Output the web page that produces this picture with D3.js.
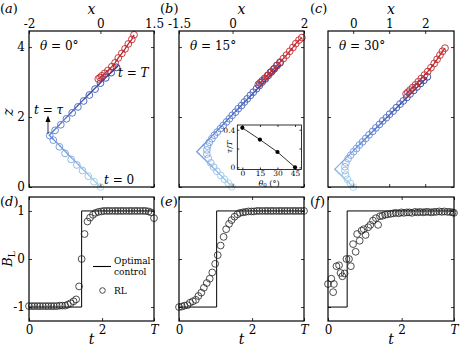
<!DOCTYPE html>
<html>
<head>
<meta charset="utf-8">
<script src="https://cdn.jsdelivr.net/npm/d3@7"></script>
<style>
body { margin: 0; background: #fff; }
svg text { font-family: 'DejaVu Serif', serif !important; }
</style>
</head>
<body>
<div id="chart"></div>
<script>

// ---- data ----
var T_END = 3.42;   // t = T

// trajectories, optimal control (line) and RL (circles), plus red continuation
var aLineX = [0, -1.43, -0.5, 0, 0.5];
var aLineZ = [0, 1.48, 2.47, 2.98, 3.47];
var aRlX = [0, -0.18, -0.34, -0.5, -0.66, -0.82, -0.99, -1.15, -1.32, -1.42, -1.27, -1.11, -0.95, -0.79, -0.63, -0.47, -0.31, -0.15, 0.0, 0.15, 0.3, 0.45];
var aRlZ = [0, 0.15, 0.31, 0.47, 0.63, 0.79, 0.96, 1.15, 1.34, 1.47, 1.62, 1.78, 1.95, 2.12, 2.29, 2.46, 2.63, 2.8, 2.97, 3.12, 3.27, 3.42];
var aRedX = [-0.06, -0.01, 0.04, 0.12, 0.21, 0.32, 0.41, 0.5, 0.6, 0.69, 0.78, 0.88, 0.94];
var aRedZ = [3.09, 3.13, 3.18, 3.25, 3.33, 3.44, 3.55, 3.69, 3.82, 3.95, 4.09, 4.22, 4.35];

var bLineX = [0, -1.0, 1.33];
var bLineZ = [0, 1.01, 3.48];
var bRlX = [-0.02, -0.12, -0.23, -0.33, -0.44, -0.53, -0.61, -0.68, -0.72, -0.72, -0.7, -0.65, -0.58, -0.51, -0.43, -0.34, -0.26, -0.17, -0.09, -0.01, 0.08, 0.16, 0.25, 0.33, 0.41, 0.5, 0.58, 0.67, 0.75, 0.83, 0.92, 1.0, 1.09, 1.17, 1.25, 1.33];
var bRlZ = [0.01, 0.11, 0.22, 0.33, 0.45, 0.57, 0.69, 0.82, 0.94, 1.06, 1.17, 1.28, 1.38, 1.48, 1.57, 1.67, 1.76, 1.86, 1.95, 2.05, 2.14, 2.24, 2.33, 2.43, 2.52, 2.62, 2.71, 2.81, 2.9, 3.0, 3.09, 3.19, 3.29, 3.38, 3.48, 3.55];
var bRedX = [0.72, 0.77, 0.83, 0.9, 0.98, 1.06, 1.15, 1.24, 1.33, 1.42, 1.51, 1.6, 1.69, 1.77, 1.86, 1.94];
var bRedZ = [2.93, 2.98, 3.04, 3.11, 3.19, 3.28, 3.37, 3.47, 3.57, 3.67, 3.77, 3.88, 3.99, 4.1, 4.2, 4.27];

var cLineX = [0, -0.51, 2.04];
var cLineZ = [0, 0.51, 3.12];
var cRlX = [0, -0.08, -0.16, -0.21, -0.23, -0.23, -0.2, -0.14, -0.07, 0.01, 0.09, 0.17, 0.26, 0.35, 0.44, 0.54, 0.63, 0.73, 0.82, 0.92, 1.01, 1.11, 1.2, 1.3, 1.39, 1.49, 1.58, 1.68, 1.77, 1.87, 1.96, 2.06];
var cRlZ = [0, 0.11, 0.22, 0.34, 0.47, 0.58, 0.69, 0.81, 0.91, 1.01, 1.1, 1.2, 1.29, 1.39, 1.49, 1.59, 1.69, 1.79, 1.89, 1.98, 2.08, 2.17, 2.27, 2.37, 2.46, 2.56, 2.66, 2.76, 2.86, 2.96, 3.05, 3.15];
var cRedX = [1.47, 1.52, 1.58, 1.65, 1.73, 1.81, 1.89, 1.98, 2.07, 2.16, 2.25, 2.33, 2.41, 2.48, 2.55];
var cRedZ = [2.66, 2.71, 2.77, 2.84, 2.92, 3.01, 3.1, 3.2, 3.3, 3.41, 3.53, 3.65, 3.77, 3.88, 3.97];

// B_L(t) for RL, panels (d) and (e) share a time grid
var tGrid = [0, 0.08, 0.15, 0.23, 0.3, 0.38, 0.46, 0.53, 0.61, 0.68, 0.76, 0.84, 0.91, 0.99, 1.06, 1.14, 1.22, 1.29, 1.37, 1.44, 1.52, 1.6, 1.67, 1.75, 1.82, 1.9, 1.98, 2.05, 2.13, 2.2, 2.28, 2.36, 2.43, 2.51, 2.58, 2.66, 2.74, 2.81, 2.89, 2.96, 3.04, 3.12, 3.19, 3.27, 3.34, 3.42];
var dB = [-0.98, -0.98, -0.98, -0.98, -0.98, -0.98, -0.98, -0.98, -0.98, -0.98, -0.98, -0.97, -0.97, -0.97, -0.95, -0.92, -0.88, -0.84, -0.57, 0.0, 0.52, 0.78, 0.86, 0.92, 0.96, 0.98, 0.99, 1, 1, 1, 1, 1, 1, 1, 1, 1, 1, 1, 1, 1, 1, 1, 1, 0.99, 0.97, 0.85];
var eB = [-1.0, -0.99, -0.97, -0.96, -0.91, -0.88, -0.85, -0.77, -0.7, -0.6, -0.5, -0.41, -0.28, -0.1, 0.08, 0.28, 0.46, 0.62, 0.73, 0.81, 0.88, 0.93, 0.96, 0.97, 0.98, 0.99, 0.99, 0.99, 1, 1, 1, 1, 1, 1, 1, 1, 1, 1, 1, 1, 1, 1, 1, 1, 1, 1];
var fT = [0, 0.09, 0.14, 0.16, 0.23, 0.3, 0.34, 0.39, 0.45, 0.5, 0.57, 0.62, 0.68, 0.75, 0.79, 0.86, 0.91, 0.97, 1.02, 1.09, 1.15, 1.22, 1.3, 1.36, 1.41, 1.48, 1.55, 1.62, 1.7, 1.77, 1.84, 1.92, 1.99, 2.06, 2.14, 2.21, 2.28, 2.36, 2.43, 2.5, 2.58, 2.65, 2.72, 2.8, 2.87, 2.94, 3.02, 3.09, 3.16, 3.24, 3.31, 3.38, 3.42];
var fB = [-0.52, -0.41, -0.69, -0.52, -0.15, -0.13, -0.29, -0.36, -0.3, 0.0, 0.0, -0.15, 0.31, 0.15, 0.52, 0.38, 0.59, 0.62, 0.5, 0.66, 0.71, 0.8, 0.85, 0.71, 0.89, 0.9, 0.92, 0.93, 0.94, 0.95, 0.96, 0.95, 0.97, 0.96, 0.97, 0.97, 0.96, 0.98, 0.97, 0.98, 0.97, 0.98, 0.98, 0.97, 0.98, 0.98, 0.99, 0.98, 0.99, 0.98, 0.98, 0.97, 0.96];

// switching time of the optimal control, per theta
var tauOpt = [1.44, 1.03, 0.52];
var thetaLabels = ["0", "15", "30"];

// inset: tau/T vs theta0
var insetTheta = [0, 15, 30, 45];
var insetTau = [0.42, 0.295, 0.163, 0];

// ticks
var xTicksA = [-2, 0, 1.5], xTicksB = [-1.5, 0, 2], xTicksC = [0, 1, 2];
var zTicks = [0, 2, 4], zTickLabels = ["0", "2", "4"];
var tTicks = [0, 2, T_END], tTickLabels = ["0", "2", "T"];
var bTicks = [-1, 0, 1], bTickLabels = ["-1", "0", "1"];
var insetXTicks = [0, 15, 30, 45];
var insetYTicks = [0, 0.2, 0.4], insetYLabels = ["0", "", "0.4"];

// ---- drawing ----
var FONT = "'DejaVu Serif', serif";

var svg = d3.select("#chart").append("svg")
    .attr("width", 460)
    .attr("height", 346)
    .style("font-family", FONT);

var blue = d3.scaleLinear()
    .domain([0, 0.45, 1])
    .range(["#a9d4ec", "#5f84d4", "#24349a"])
    .interpolate(d3.interpolateRgb);
var red = "#c0282c";

function styleAxis(g, fs) {
    g.attr("font-family", null);
    g.select(".domain").remove();
    g.selectAll("line").attr("stroke", "#000").attr("stroke-width", 0.8);
    g.selectAll("text").attr("font-size", fs).attr("fill", "#000")
        .style("font-family", FONT);
}

function box(x0, y0, x1, y1, sw) {
    svg.append("rect")
        .attr("x", x0).attr("y", y0)
        .attr("width", x1 - x0).attr("height", y1 - y0)
        .attr("fill", "none").attr("stroke", "#000").attr("stroke-width", sw);
}

function label(x, y, parts, size, anchor, rot) {
    var t = svg.append("text")
        .attr("x", x).attr("y", y)
        .style("font-family", FONT)
        .attr("font-size", size)
        .attr("text-anchor", anchor || "start");
    if (rot) t.attr("transform", "rotate(" + rot + "," + x + "," + y + ")");
    parts.forEach(function(p) {
        var s = t.append("tspan").text(p[0]);
        if (p[1] == "i") s.attr("font-style", "italic");
        if (p[1] == "sub") s.attr("font-size", size * 0.7).attr("dy", 3);
    });
    return t;
}

var TOP = 31, BOT = 187;

function topPanel(x0, x1, dom, ticks, showZ, lx, ly, rx, rz, redx, redz, th) {
    var x = d3.scaleLinear().domain(dom).range([x0, x1]);
    var z = d3.scaleLinear().domain([0, 4.46]).range([BOT, TOP]);

    svg.append("g").attr("transform", "translate(0," + TOP + ")")
        .call(d3.axisTop(x).tickValues(ticks).tickSize(-3).tickPadding(3)
            .tickFormat(function(d) { return String(d); }))
        .call(styleAxis, 12);
    svg.append("g").attr("transform", "translate(0," + BOT + ")")
        .call(d3.axisBottom(x).tickValues(ticks).tickSize(-3).tickFormat(""))
        .call(styleAxis, 12);
    svg.append("g").attr("transform", "translate(" + x0 + ",0)")
        .call(d3.axisLeft(z).tickValues(zTicks).tickSize(-3).tickPadding(4)
            .tickFormat(function(d, i) { return showZ ? zTickLabels[i] : ""; }))
        .call(styleAxis, 12);
    svg.append("g").attr("transform", "translate(" + x1 + ",0)")
        .call(d3.axisRight(z).tickValues(zTicks).tickSize(-3).tickFormat(""))
        .call(styleAxis, 12);

    // optimal trajectory, coloured by progress along the path
    var pts = lx.map(function(d, i) { return [x(d), z(ly[i])]; });
    var cum = [0];
    for (var i = 1; i < pts.length; i++) {
        cum.push(cum[i - 1] + Math.hypot(pts[i][0] - pts[i - 1][0], pts[i][1] - pts[i - 1][1]));
    }
    var total = cum[cum.length - 1];
    var g = svg.append("g");
    for (var i = 1; i < pts.length; i++) {
        var n = 14;
        for (var k = 0; k < n; k++) {
            var a = k / n, b = (k + 1) / n;
            var seg = cum[i] - cum[i - 1];
            g.append("line")
                .attr("x1", pts[i - 1][0] + (pts[i][0] - pts[i - 1][0]) * a)
                .attr("y1", pts[i - 1][1] + (pts[i][1] - pts[i - 1][1]) * a)
                .attr("x2", pts[i - 1][0] + (pts[i][0] - pts[i - 1][0]) * b)
                .attr("y2", pts[i - 1][1] + (pts[i][1] - pts[i - 1][1]) * b)
                .attr("stroke", blue((cum[i - 1] + seg * (a + b) / 2) / total))
                .attr("stroke-width", 1.3)
                .attr("stroke-linecap", "round");
        }
    }

    g.selectAll(".rl").data(rx).enter().append("circle")
        .attr("cx", function(d) { return x(d); })
        .attr("cy", function(d, i) { return z(rz[i]); })
        .attr("r", 3.4)
        .attr("fill", "none")
        .attr("stroke", function(d, i) { return blue(i / (rx.length - 1)); })
        .attr("stroke-width", 0.9);

    g.append("path")
        .datum(redx)
        .attr("d", d3.line().x(function(d) { return x(d); }).y(function(d, i) { return z(redz[i]); }))
        .attr("fill", "none").attr("stroke", red).attr("stroke-width", 1.3);

    g.selectAll(".red").data(redx).enter().append("circle")
        .attr("cx", function(d) { return x(d); })
        .attr("cy", function(d, i) { return z(redz[i]); })
        .attr("r", 3.4)
        .attr("fill", "none")
        .attr("stroke", red)
        .attr("stroke-width", 0.9);

    box(x0, TOP, x1, BOT, 1.2);
    label((x0 + x1) / 2, 14, [["x", "i"]], 14, "middle");
    label(x0 + 11, 50, [["θ", "i"], [" = " + th + "°", ""]], 12);
    return { x: x, z: z };
}

var pa = topPanel(29, 154, [-2, 1.5], xTicksA, true, aLineX, aLineZ, aRlX, aRlZ, aRedX, aRedZ, thetaLabels[0]);
var pb = topPanel(179, 304, [-1.5, 2], xTicksB, false, bLineX, bLineZ, bRlX, bRlZ, bRedX, bRedZ, thetaLabels[1]);
var pc = topPanel(328, 454, [-0.7, 2.8], xTicksC, false, cLineX, cLineZ, cRlX, cRlZ, cRedX, cRedZ, thetaLabels[2]);

label(13, 112, [["z", "i"]], 14, "middle", -90);

// annotations in (a)
label(118, 77, [["t", "i"], [" = ", ""], ["T", "i"]], 12);
label(34, 114, [["t", "i"], [" = ", ""], ["τ", "i"]], 12);
label(104, 184, [["t", "i"], [" = 0", ""]], 12);
svg.append("line").attr("x1", 48).attr("y1", 134).attr("x2", 48).attr("y2", 121)
    .attr("stroke", "#000").attr("stroke-width", 0.8);
svg.append("path").attr("d", "M45.5,122 L48,115.5 L50.5,122 Z").attr("fill", "#000");

// inset in (b)
(function() {
    var X0 = 237.3, X1 = 301.5, Y0 = 125, Y1 = 169.5;
    var ix = d3.scaleLinear().domain([-4.3, 50.5]).range([X0, X1]);
    var iy = d3.scaleLinear().domain([-0.023, 0.45]).range([Y1, Y0]);
    svg.append("rect").attr("x", X0).attr("y", Y0).attr("width", X1 - X0).attr("height", Y1 - Y0)
        .attr("fill", "#fff");
    svg.append("g").attr("transform", "translate(0," + Y1 + ")")
        .call(d3.axisBottom(ix).tickValues(insetXTicks).tickSize(-2).tickPadding(1.5))
        .call(styleAxis, 7.5);
    svg.append("g").attr("transform", "translate(0," + Y0 + ")")
        .call(d3.axisTop(ix).tickValues(insetXTicks).tickSize(-2).tickFormat(""))
        .call(styleAxis, 7.5);
    svg.append("g").attr("transform", "translate(" + X0 + ",0)")
        .call(d3.axisLeft(iy).tickValues(insetYTicks).tickSize(-2).tickPadding(2)
            .tickFormat(function(d, i) { return insetYLabels[i]; }))
        .call(styleAxis, 7.5);
    svg.append("g").attr("transform", "translate(" + X1 + ",0)")
        .call(d3.axisRight(iy).tickValues(insetYTicks).tickSize(-2).tickFormat(""))
        .call(styleAxis, 7.5);
    svg.append("path").datum(insetTheta)
        .attr("d", d3.line().x(function(d) { return ix(d); }).y(function(d, i) { return iy(insetTau[i]); }))
        .attr("fill", "none").attr("stroke", "#000").attr("stroke-width", 0.8);
    svg.selectAll(".ins").data(insetTheta).enter().append("circle")
        .attr("cx", function(d) { return ix(d); })
        .attr("cy", function(d, i) { return iy(insetTau[i]); })
        .attr("r", 2.1).attr("fill", "#000");
    box(X0, Y0, X1, Y1, 0.8);
    label(232, 147, [["τ", "i"], ["/", ""], ["T", "i"]], 8, "middle", -90);
    var t = label(269, 185.5, [["θ", "i"]], 8, "middle");
    t.append("tspan").text("0").attr("font-size", 5.5).attr("dy", 1.5);
    t.append("tspan").text(" (°)").attr("dy", -1.5);
})();

// bottom panels
var BT = 197, BB = 321;

function bottomPanel(x0, x1, ts, bs, tau, showB) {
    var x = d3.scaleLinear().domain([0, T_END]).range([x0, x1]);
    var y = d3.scaleLinear().domain([-1.29, 1.29]).range([BB, BT]);

    var bx = svg.append("g").attr("transform", "translate(0," + BB + ")")
        .call(d3.axisBottom(x).tickValues(tTicks).tickSize(-3).tickPadding(4)
            .tickFormat(function(d, i) { return tTickLabels[i]; }))
        .call(styleAxis, 12);
    bx.selectAll("text").filter(function(d, i) { return tTickLabels[i] == "T"; })
        .attr("font-style", "italic");
    svg.append("g").attr("transform", "translate(0," + BT + ")")
        .call(d3.axisTop(x).tickValues(tTicks).tickSize(-3).tickFormat(""))
        .call(styleAxis, 12);
    svg.append("g").attr("transform", "translate(" + x0 + ",0)")
        .call(d3.axisLeft(y).tickValues(bTicks).tickSize(-3).tickPadding(4)
            .tickFormat(function(d, i) { return showB ? bTickLabels[i] : ""; }))
        .call(styleAxis, 12);
    svg.append("g").attr("transform", "translate(" + x1 + ",0)")
        .call(d3.axisRight(y).tickValues(bTicks).tickSize(-3).tickFormat(""))
        .call(styleAxis, 12);

    var opt = [[0, -1], [tau, -1], [tau, 1], [T_END, 1]];
    svg.append("path").datum(opt)
        .attr("d", d3.line().x(function(d) { return x(d[0]); }).y(function(d) { return y(d[1]); }))
        .attr("fill", "none").attr("stroke", "#000").attr("stroke-width", 1);

    svg.append("g").selectAll("circle").data(ts).enter().append("circle")
        .attr("cx", function(d) { return x(d); })
        .attr("cy", function(d, i) { return y(bs[i]); })
        .attr("r", 3.4)
        .attr("fill", "none")
        .attr("stroke", "#222")
        .attr("stroke-width", 0.8);

    box(x0, BT, x1, BB, 1.2);
    label((x0 + x1) / 2, 344, [["t", "i"]], 14, "middle");
}

bottomPanel(29, 154, tGrid, dB, tauOpt[0], true);
bottomPanel(179, 304, tGrid, eB, tauOpt[1], false);
bottomPanel(328, 454, fT, fB, tauOpt[2], false);

label(12, 259, [["B", "i"], ["L", "sub"]], 13, "middle", -90);

// legend in (d)
svg.append("line").attr("x1", 93).attr("y1", 266.5).attr("x2", 111).attr("y2", 266.5)
    .attr("stroke", "#000").attr("stroke-width", 1.1);
label(114, 264, [["Optimal", ""]], 9);
label(114, 275, [["control", ""]], 9);
svg.append("circle").attr("cx", 102.5).attr("cy", 290.5).attr("r", 2.8)
    .attr("fill", "none").attr("stroke", "#222").attr("stroke-width", 0.8);
label(114, 294, [["RL", ""]], 9);

// panel letters
[["a", 0, 13], ["b", 160, 13], ["c", 310, 13], ["d", 0, 206], ["e", 160, 206], ["f", 310, 206]].forEach(function(p) {
    label(p[1], p[2], [["(", ""], [p[0], "i"], [")", ""]], 13);
});

</script>
</body>
</html>
